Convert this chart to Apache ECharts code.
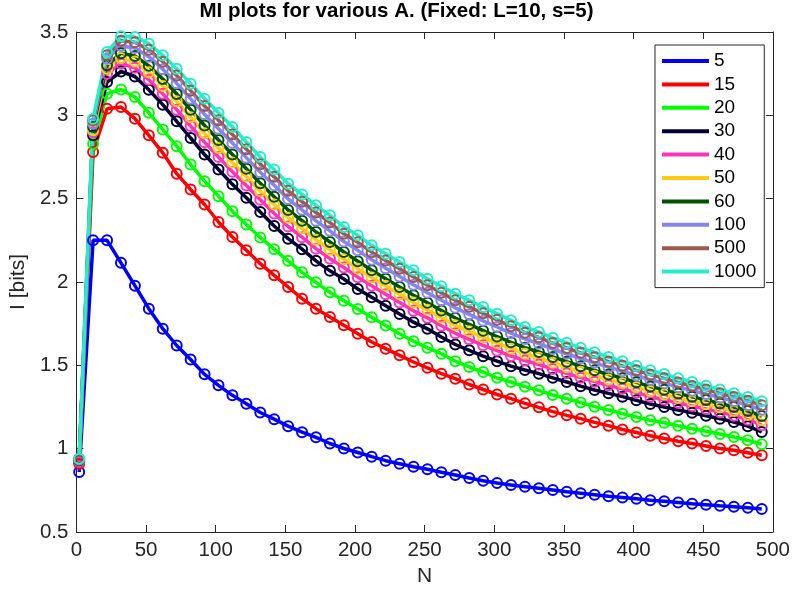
<!DOCTYPE html>
<html>
<head>
<meta charset="utf-8">
<script src="https://cdn.jsdelivr.net/npm/echarts@6/dist/echarts.min.js"></script>
<style>html,body{margin:0;padding:0;background:#fff;}#c{width:793px;height:592px;}</style>
</head>
<body>
<div id="c"></div>
<script>
const N = [2,12,22,32,42,52,62,72,82,92,102,112,122,132,142,152,162,172,182,192,202,212,222,232,242,252,262,272,282,292,302,312,322,332,342,352,362,372,382,392,402,412,422,432,442,452,462,472,482,492];
const seriesNames = ['5','15','20','30','40','50','60','100','500','1000'];
const seriesColors = ['#0000ff','#ff0000','#00ff00','#000033','#ff33bb','#ffcc11','#005200','#8585f0','#a0574c','#22eecc'];

const A5 = [0.86,2.25,2.25,2.115,1.978,1.84,1.72,1.619,1.535,1.446,
 1.38,1.32,1.27,1.217,1.177,1.135,1.099,1.068,1.031,1.001,
 0.977,0.952,0.928,0.91,0.892,0.876,0.858,0.842,0.824,0.808,
 0.794,0.782,0.772,0.762,0.752,0.742,0.733,0.724,0.715,0.707,
 0.699,0.691,0.684,0.677,0.670,0.664,0.657,0.651,0.645,0.638];
const A15 = [0.91,2.78,3.04,3.05,2.98,2.88,2.775,2.65,2.555,2.465,
 2.36,2.27,2.19,2.11,2.04,1.97,1.90,1.84,1.79,1.74,
 1.69,1.64,1.60,1.56,1.52,1.485,1.45,1.42,1.385,1.355,
 1.325,1.30,1.272,1.248,1.222,1.20,1.18,1.158,1.138,1.115,
 1.097,1.078,1.061,1.045,1.031,1.016,1.001,0.99,0.976,0.96];
const A20 = [0.92,2.83,3.13,3.155,3.11,3.015,2.915,2.815,2.705,2.605,
 2.515,2.425,2.345,2.267,2.197,2.127,2.058,1.998,1.938,1.888,
 1.838,1.789,1.739,1.69,1.645,1.605,1.57,1.525,1.49,1.46,
 1.425,1.40,1.372,1.35,1.322,1.30,1.277,1.252,1.232,1.21,
 1.19,1.17,1.155,1.137,1.12,1.104,1.088,1.07,1.05,1.027];
const A30 = [0.92,2.88,3.20,3.263,3.233,3.153,3.064,2.964,2.864,2.765,
 2.675,2.586,2.506,2.42,2.336,2.26,2.197,2.127,2.067,2.018,
 1.958,1.908,1.858,1.808,1.759,1.719,1.67,1.625,1.59,1.555,
 1.525,1.495,1.472,1.45,1.425,1.40,1.375,1.352,1.332,1.312,
 1.29,1.268,1.25,1.232,1.215,1.198,1.18,1.16,1.135,1.10];
const A40 = [0.92,2.90,3.25,3.31,3.285,3.214,3.129,3.034,2.936,2.839,
 2.75,2.662,2.579,2.493,2.411,2.333,2.269,2.20,2.14,2.087,
 2.029,1.977,1.927,1.877,1.827,1.785,1.737,1.692,1.656,1.62,
 1.588,1.556,1.529,1.505,1.478,1.452,1.426,1.402,1.38,1.359,
 1.336,1.312,1.294,1.274,1.256,1.238,1.219,1.198,1.174,1.141];
const A50 = [0.93,2.91,3.28,3.344,3.323,3.258,3.176,3.084,2.988,2.892,
 2.804,2.717,2.633,2.545,2.465,2.385,2.322,2.254,2.194,2.137,
 2.08,2.027,1.977,1.927,1.877,1.833,1.786,1.741,1.704,1.667,
 1.633,1.60,1.57,1.545,1.516,1.489,1.462,1.438,1.415,1.393,
 1.369,1.345,1.325,1.304,1.285,1.266,1.247,1.226,1.202,1.17];
const A60 = [0.93,2.93,3.30,3.373,3.356,3.297,3.218,3.128,3.034,2.939,
 2.852,2.765,2.68,2.592,2.512,2.432,2.368,2.30,2.24,2.18,
 2.125,2.07,2.02,1.97,1.921,1.876,1.829,1.784,1.746,1.708,
 1.673,1.638,1.606,1.58,1.55,1.522,1.495,1.47,1.445,1.423,
 1.398,1.373,1.353,1.331,1.311,1.292,1.271,1.25,1.226,1.196];
const A100 = [0.935,2.95,3.34,3.416,3.404,3.352,3.277,3.192,3.099,3.006,
 2.92,2.834,2.746,2.658,2.58,2.498,2.433,2.367,2.307,2.243,
 2.19,2.133,2.083,2.033,1.983,1.936,1.89,1.845,1.806,1.767,
 1.73,1.693,1.658,1.63,1.598,1.569,1.541,1.515,1.489,1.465,
 1.439,1.413,1.393,1.369,1.348,1.328,1.306,1.285,1.261,1.233];
const A500 = [0.94,2.97,3.36,3.447,3.439,3.394,3.322,3.239,3.148,3.056,
 2.971,2.885,2.797,2.707,2.631,2.547,2.482,2.417,2.357,2.289,
 2.238,2.179,2.129,2.079,2.03,1.981,1.935,1.89,1.851,1.812,
 1.773,1.734,1.696,1.668,1.634,1.604,1.575,1.549,1.522,1.497,
 1.47,1.444,1.422,1.397,1.376,1.355,1.332,1.31,1.287,1.261];
const A1000 = [0.94,2.98,3.38,3.475,3.47,3.43,3.36,3.28,3.19,3.10,
 3.015,2.93,2.84,2.75,2.675,2.59,2.525,2.46,2.40,2.33,
 2.28,2.22,2.17,2.12,2.07,2.02,1.975,1.93,1.89,1.85,
 1.81,1.77,1.73,1.70,1.665,1.635,1.605,1.578,1.55,1.525,
 1.497,1.47,1.448,1.422,1.40,1.378,1.355,1.333,1.31,1.285];

const seriesValues = [A5,A15,A20,A30,A40,A50,A60,A100,A500,A1000];
const xTicks = {min:0, max:500, interval:50};
const yTicks = {min:0.5, max:3.5, interval:0.5};

const FONT = "'Liberation Sans', Arial, Helvetica, sans-serif";
const AX = '#262626';

function axisCommon(showLabel) {
  return {
    axisLine: {show: true, onZero: false, lineStyle: {color: AX, width: 1}},
    axisTick: {show: true, inside: true, length: 7, lineStyle: {color: AX, width: 1}},
    axisLabel: {show: showLabel, color: AX, fontSize: 20.5, fontFamily: FONT, margin: 8},
    splitLine: {show: false}
  };
}

const chart = echarts.init(document.getElementById('c'), null, {renderer: 'canvas'});
const option = {
  animation: false,
  backgroundColor: '#fff',
  title: {
    text: 'MI plots for various A. (Fixed: L=10, s=5)',
    left: 'center', top: 0, padding: [1, 5],
    textStyle: {fontSize: 20.5, fontWeight: 'bold', color: '#000', fontFamily: FONT}
  },
  grid: {left: 64, right: 17, top: 32, bottom: 58, containLabel: false},
  legend: {
    orient: 'vertical', left: 655, top: 45,
    padding: [6, 8, 6, 7], itemGap: 3.4, itemWidth: 47, itemHeight: 4,
    borderColor: AX, borderWidth: 1, backgroundColor: '#fff',
    textStyle: {fontSize: 19, lineHeight: 20, color: '#000', fontFamily: FONT},
    data: seriesNames.map((n, i) => ({name: n, icon: 'rect', itemStyle: {color: seriesColors[i], borderWidth: 0}}))
  },
  xAxis: [
    Object.assign({type: 'value', position: 'bottom', min: xTicks.min, max: xTicks.max, interval: xTicks.interval,
      name: 'N', nameLocation: 'middle', nameGap: 34,
      nameTextStyle: {fontSize: 21, color: AX, fontFamily: FONT}}, axisCommon(true)),
    Object.assign({type: 'value', position: 'top', min: xTicks.min, max: xTicks.max, interval: xTicks.interval}, axisCommon(false))
  ],
  yAxis: [
    Object.assign({type: 'value', position: 'left', min: yTicks.min, max: yTicks.max, interval: yTicks.interval,
      name: 'I [bits]', nameLocation: 'middle', nameGap: 42,
      nameTextStyle: {fontSize: 21, color: AX, fontFamily: FONT}}, axisCommon(true)),
    Object.assign({type: 'value', position: 'right', min: yTicks.min, max: yTicks.max, interval: yTicks.interval}, axisCommon(false))
  ],
  series: seriesNames.map((n, i) => ({
    name: n, type: 'line', xAxisIndex: 0, yAxisIndex: 0,
    data: N.map((x, k) => [x, seriesValues[i][k]]),
    symbol: 'circle', symbolSize: 10, showSymbol: true,
    lineStyle: {color: seriesColors[i], width: 3.5},
    itemStyle: {color: 'rgba(0,0,0,0)', borderColor: seriesColors[i], borderWidth: 2},
    emphasis: {disabled: true},
    z: 2
  }))
};
chart.setOption(option);
</script>
</body>
</html>
